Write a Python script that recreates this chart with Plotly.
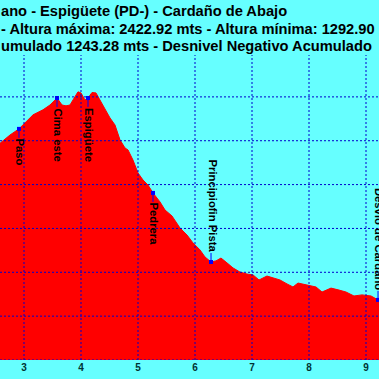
import plotly.graph_objects as go

# Elevation profile (distance in km, elevation in m)
dist_km = [2.40, 2.579, 2.754, 2.912, 3.158, 3.333, 3.456, 3.579, 3.667, 3.737, 3.807, 3.860,
           3.947, 4.000, 4.070, 4.123, 4.193, 4.263, 4.333, 4.421, 4.509, 4.596, 4.684, 4.772,
           4.825, 4.912, 5.000, 5.088, 5.175, 5.263, 5.386, 5.474, 5.596, 5.737, 5.860, 5.965,
           6.088, 6.175, 6.281, 6.368, 6.456, 6.561, 6.667, 6.789, 6.912, 7.018, 7.123, 7.263,
           7.368, 7.491, 7.614, 7.719, 7.807, 7.947, 8.123, 8.228, 8.386, 8.526, 8.649, 8.789,
           8.930, 9.088, 9.211, 9.35]
elev_m = [2150, 2190, 2226, 2254, 2318, 2341, 2363, 2395, 2363, 2359, 2363, 2386,
          2423, 2418, 2386, 2395, 2420, 2418, 2386, 2341, 2304, 2272, 2204, 2167,
          2158, 2112, 2053, 2021, 1998, 1962, 1921, 1884, 1857, 1802, 1770, 1734,
          1702, 1670, 1647, 1652, 1665, 1643, 1620, 1601, 1592, 1588, 1565, 1583,
          1574, 1565, 1547, 1533, 1551, 1542, 1533, 1510, 1528, 1519, 1510, 1492,
          1497, 1492, 1474, 1462]

# Waypoints
wp_names = ["Paso", "Cima este", "Espigüete", "Pedrera", "Principiofin Pista", "Desvío de Cardaño"]
wp_km = [2.912, 3.579, 4.123, 5.263, 6.281, 9.211]
wp_elev = [2254, 2395, 2395, 1962, 1647, 1474]
wp_side = ["below", "below", "below", "below", "above", "above"]

x_ticks = [3, 4, 5, 6, 7, 8, 9]
y_grid = [1200, 1400, 1600, 1800, 2000, 2200, 2400, 2600]

title_lines = [
    "ano - Espigüete (PD-) - Cardaño de Abajo",
    "- Altura máxima: 2422.92 mts - Altura mínima: 1292.90 mts",
    "umulado 1243.28 mts - Desnivel Negativo Acumulado",
]

BG = "#66FFFF"
FONT = "Liberation Sans, Arial, sans-serif"

fig = go.Figure()
fig.add_trace(go.Scatter(x=dist_km, y=elev_m, mode="lines", fill="tozeroy",
                         fillcolor="#FF0000", line=dict(color="#FF0000", width=1),
                         hoverinfo="skip", showlegend=False))

shapes = []
for xv in x_ticks:
    shapes.append(dict(type="line", xref="x", yref="paper", x0=xv, x1=xv, y0=0, y1=1,
                       layer="above", line=dict(color="#0000CC", width=1, dash="2px,2px")))
for yv in y_grid:
    shapes.append(dict(type="line", xref="paper", yref="y", x0=0, x1=1, y0=yv, y1=yv,
                       layer="above", line=dict(color="#0000CC", width=1, dash="2px,2px")))

annotations = []
for name, xk, ye, side in zip(wp_names, wp_km, wp_elev, wp_side):
    below = side == "below"
    # short connector from the waypoint to its label
    shapes.append(dict(type="line", xref="x", yref="y", ysizemode="pixel", yanchor=ye,
                       x0=xk, x1=xk, y0=0, y1=-9 if below else 9, layer="above",
                       line=dict(color="#0000FF", width=1)))
    annotations.append(dict(x=xk, y=ye, xref="x", yref="y", text=name, textangle=90,
                            showarrow=False, yshift=-8 if below else 8, xshift=1,
                            xanchor="center", yanchor="top" if below else "bottom",
                            font=dict(family=FONT, size=11.3, color="black", weight="bold")))

fig.add_trace(go.Scatter(x=wp_km, y=wp_elev, mode="markers",
                         marker=dict(symbol="square", size=4, color="#0000FF"),
                         showlegend=False, hoverinfo="skip"))

title_y = [1.143, 1.085, 1.029]
for txt, ty in zip(title_lines, title_y):
    annotations.append(dict(x=0, y=ty, xref="paper", yref="paper", text=txt,
                            showarrow=False, xanchor="left", yanchor="middle", xshift=-1,
                            font=dict(family=FONT, size=14.67, color="black", weight="bold")))

fig.update_layout(
    width=379, height=379,
    margin=dict(l=0, r=0, t=55, b=19, pad=0, autoexpand=False),
    paper_bgcolor=BG, plot_bgcolor=BG,
    shapes=shapes, annotations=annotations,
    xaxis=dict(range=[2.579, 9.228], tickvals=x_ticks, showgrid=False, zeroline=False,
               showline=False, ticks="", automargin=False,
               tickfont=dict(family=FONT, size=10, color="#003333", weight="bold")),
    yaxis=dict(range=[1200, 2591], showgrid=False, zeroline=False, showline=False,
               showticklabels=False, ticks="", automargin=False),
)

fig.write_html("out.html", config={"displayModeBar": False},
               post_script="document.body.style.margin='0';document.body.style.overflow='hidden';")
